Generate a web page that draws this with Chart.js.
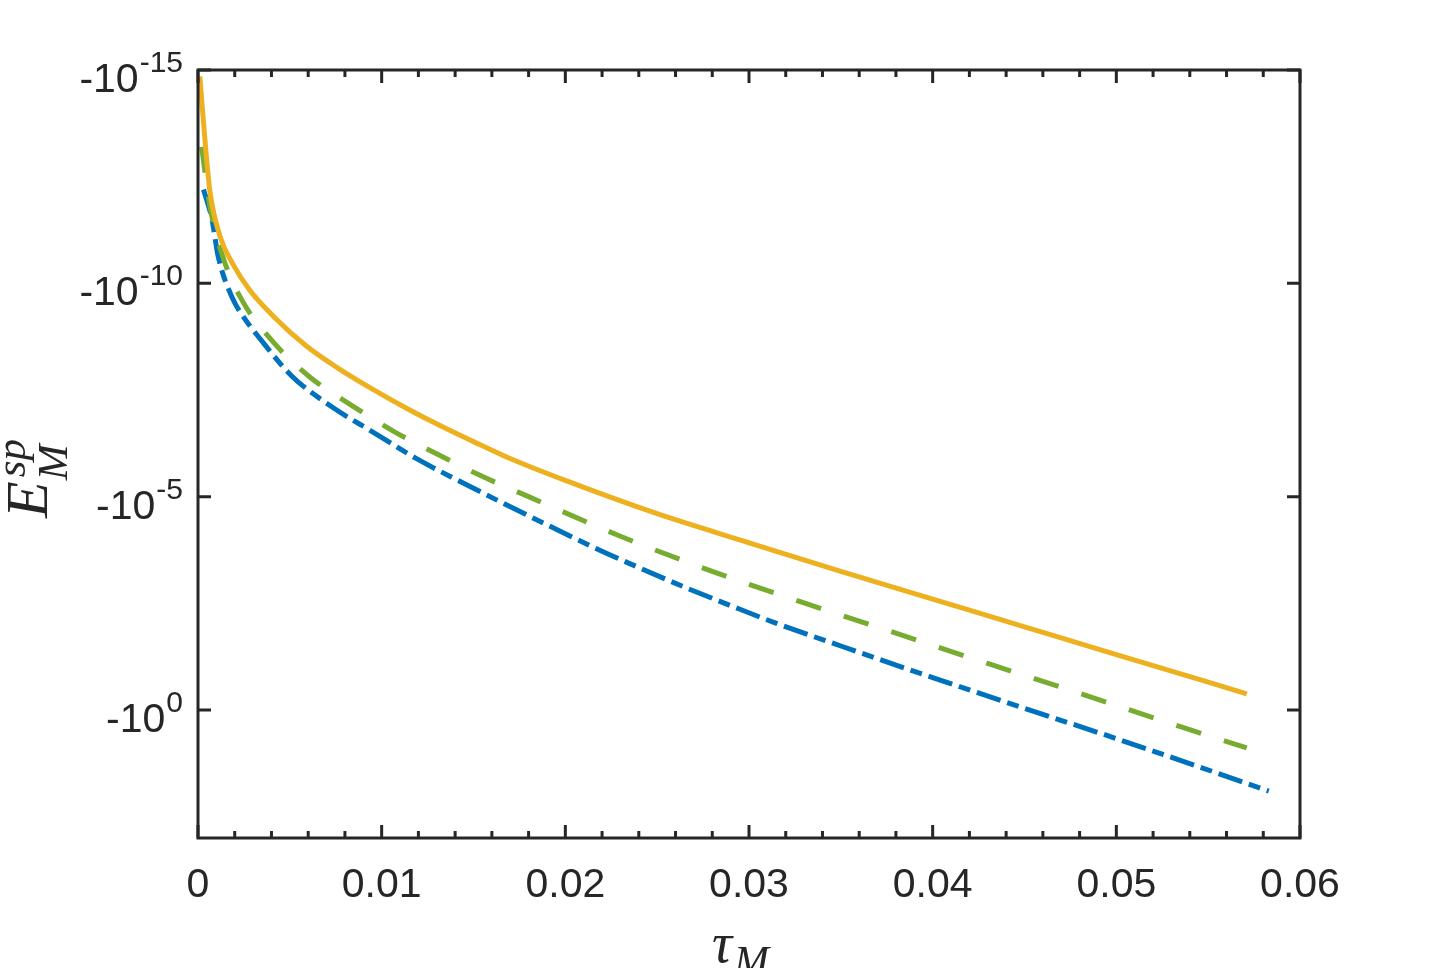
<!DOCTYPE html>
<html>
<head>
<meta charset="utf-8">
<script src="https://cdn.jsdelivr.net/npm/chart.js@4.4.1/dist/chart.umd.min.js"></script>
<style>
    html, body { margin: 0; padding: 0; background: #ffffff; }
    #wrap { width: 1435px; height: 968px; }
</style>
</head>
<body>
<div id="wrap"><canvas id="chartEnergy" width="1435" height="968"></canvas></div>
<script>
// tau_M values and log10(|E_M^sp|) (plotted on a reversed axis)
const solidTau = [0.0001, 0.0004, 0.00065, 0.0012, 0.0019, 0.0028, 0.0041, 0.0059, 0.0077, 0.0095, 0.0114, 0.0132, 0.015, 0.0168, 0.02, 0.025, 0.03, 0.035, 0.04, 0.045, 0.05, 0.0571];
const solidExp = [-14.85, -13.25, -12.15, -11.1, -10.45, -9.85, -9.23, -8.53, -7.99, -7.52, -7.06, -6.66, -6.29, -5.93, -5.38, -4.6, -3.92, -3.25, -2.6, -1.95, -1.3, -0.38];

const dashedTau = [0.0002, 0.00065, 0.0014, 0.0024, 0.0041, 0.0061, 0.0084, 0.0107, 0.0131, 0.0155, 0.018, 0.0229, 0.028, 0.0332, 0.038, 0.043, 0.048, 0.0537, 0.0571];
const dashedExp = [-13.2, -11.8, -10.56, -9.6, -8.62, -7.8, -7.13, -6.52, -5.98, -5.47, -5.0, -4.09, -3.25, -2.48, -1.8, -1.09, -0.39, 0.42, 0.89];

const dashDotTau = [0.0003, 0.00076, 0.0011, 0.0019, 0.00245, 0.0034, 0.0051, 0.0072, 0.0095, 0.0119, 0.0143, 0.0166, 0.0192, 0.0216, 0.0241, 0.0266, 0.0291, 0.0315, 0.035, 0.04, 0.045, 0.05, 0.0547, 0.0583];
const dashDotExp = [-12.2, -11.5, -10.63, -9.63, -9.23, -8.69, -7.83, -7.13, -6.52, -5.89, -5.35, -4.85, -4.3, -3.8, -3.32, -2.86, -2.43, -2.03, -1.5, -0.76, -0.04, 0.67, 1.36, 1.9];

// axis ticks
const xTickValues = [0, 0.01, 0.02, 0.03, 0.04, 0.05, 0.06];
const xTickLabels = ['0', '0.01', '0.02', '0.03', '0.04', '0.05', '0.06'];
const xMinorStep = 0.002;
const yTickExps = [-15, -10, -5, 0];

const AXIS_COLOR = '#262626';
const SANS = '"Liberation Sans", Arial, Helvetica, sans-serif';
const SERIF = '"Liberation Serif", "Times New Roman", serif';

let chartEnergy = null;

document.addEventListener('DOMContentLoaded', function () {
    createChart();
});

function toPoints(taus, exps) {
    return taus.map((t, i) => ({ x: t, y: exps[i] }));
}

const axesBox = {
    id: 'axesBox',
    afterDatasetsDraw(chart) {
        const ctx = chart.ctx;
        const area = chart.chartArea;
        const xs = chart.scales.x;
        const ys = chart.scales.y;

        ctx.save();
        ctx.strokeStyle = AXIS_COLOR;
        ctx.fillStyle = AXIS_COLOR;
        ctx.lineWidth = 3;
        ctx.lineCap = 'butt';

        // minor + major x ticks, bottom and top, pointing inward
        for (let v = 0; v <= 0.06 + 1e-9; v += xMinorStep) {
            const px = xs.getPixelForValue(v);
            const isMajor = xTickValues.some(t => Math.abs(t - v) < 1e-9);
            const len = isMajor ? 13 : 7;
            ctx.beginPath();
            ctx.moveTo(px, area.bottom);
            ctx.lineTo(px, area.bottom - len);
            ctx.moveTo(px, area.top);
            ctx.lineTo(px, area.top + len);
            ctx.stroke();
        }

        // y ticks, left and right
        yTickExps.forEach(e => {
            const py = ys.getPixelForValue(e);
            ctx.beginPath();
            ctx.moveTo(area.left, py);
            ctx.lineTo(area.left + 13, py);
            ctx.moveTo(area.right, py);
            ctx.lineTo(area.right - 13, py);
            ctx.stroke();
        });

        // box
        ctx.strokeRect(area.left, area.top, area.right - area.left, area.bottom - area.top);

        // x tick labels
        ctx.font = '41px ' + SANS;
        ctx.textAlign = 'center';
        ctx.textBaseline = 'alphabetic';
        xTickValues.forEach((v, i) => {
            ctx.fillText(xTickLabels[i], xs.getPixelForValue(v), area.bottom + 59);
        });

        // y tick labels: -10 with superscript exponent
        const rightEdge = area.left - 15;
        yTickExps.forEach(e => {
            const py = ys.getPixelForValue(e);
            const sup = String(e);
            ctx.font = '30px ' + SANS;
            const supW = ctx.measureText(sup).width;
            ctx.font = '41px ' + SANS;
            const baseW = ctx.measureText('-10').width;
            ctx.textAlign = 'left';
            ctx.fillText('-10', rightEdge - supW - baseW - 1, py + 22);
            ctx.font = '30px ' + SANS;
            ctx.fillText(sup, rightEdge - supW, py + 2);
        });

        // x axis title: tau_M
        ctx.font = 'italic 56px ' + SERIF;
        ctx.textAlign = 'left';
        ctx.fillText('\u03C4', 712, 962);
        const tauW = ctx.measureText('\u03C4').width;
        ctx.font = 'italic 42px ' + SERIF;
        ctx.fillText('M', 712 + tauW + 2, 975);

        // y axis title: E^sp_M, rotated
        ctx.translate(47, 518);
        ctx.rotate(-Math.PI / 2);
        ctx.font = 'italic 60px ' + SERIF;
        ctx.fillText('E', 0, 0);
        const eW = ctx.measureText('E').width;
        ctx.font = 'italic 43px ' + SERIF;
        ctx.fillText('sp', eW + 4, -22);
        ctx.fillText('M', eW + 1, 20);

        ctx.restore();
    }
};

function createChart() {
    const ctx = document.getElementById('chartEnergy').getContext('2d');

    if (chartEnergy) {
        chartEnergy.destroy();
    }

    const lineBase = {
        showLine: true,
        fill: false,
        pointRadius: 0,
        pointHoverRadius: 0,
        borderWidth: 5,
        borderCapStyle: 'butt',
        borderJoinStyle: 'round',
        cubicInterpolationMode: 'monotone'
    };

    chartEnergy = new Chart(ctx, {
        type: 'scatter',
        data: {
            datasets: [
                Object.assign({}, lineBase, {
                    label: 'solid',
                    data: toPoints(solidTau, solidExp),
                    borderColor: '#EDB120'
                }),
                Object.assign({}, lineBase, {
                    label: 'dashed',
                    data: toPoints(dashedTau, dashedExp),
                    borderColor: '#77AC30',
                    borderDash: [26, 24]
                }),
                Object.assign({}, lineBase, {
                    label: 'dash-dot',
                    data: toPoints(dashDotTau, dashDotExp),
                    borderColor: '#0072BD',
                    borderDash: [25, 7, 12, 7]
                })
            ]
        },
        options: {
            responsive: false,
            animation: false,
            devicePixelRatio: 1,
            layout: {
                padding: { left: 198, right: 135, top: 70, bottom: 130 }
            },
            plugins: {
                legend: { display: false },
                tooltip: { enabled: false }
            },
            scales: {
                x: { type: 'linear', min: 0, max: 0.06, display: false },
                y: { type: 'linear', min: -15, max: 3, reverse: true, display: false }
            }
        },
        plugins: [axesBox]
    });
}
</script>
</body>
</html>
